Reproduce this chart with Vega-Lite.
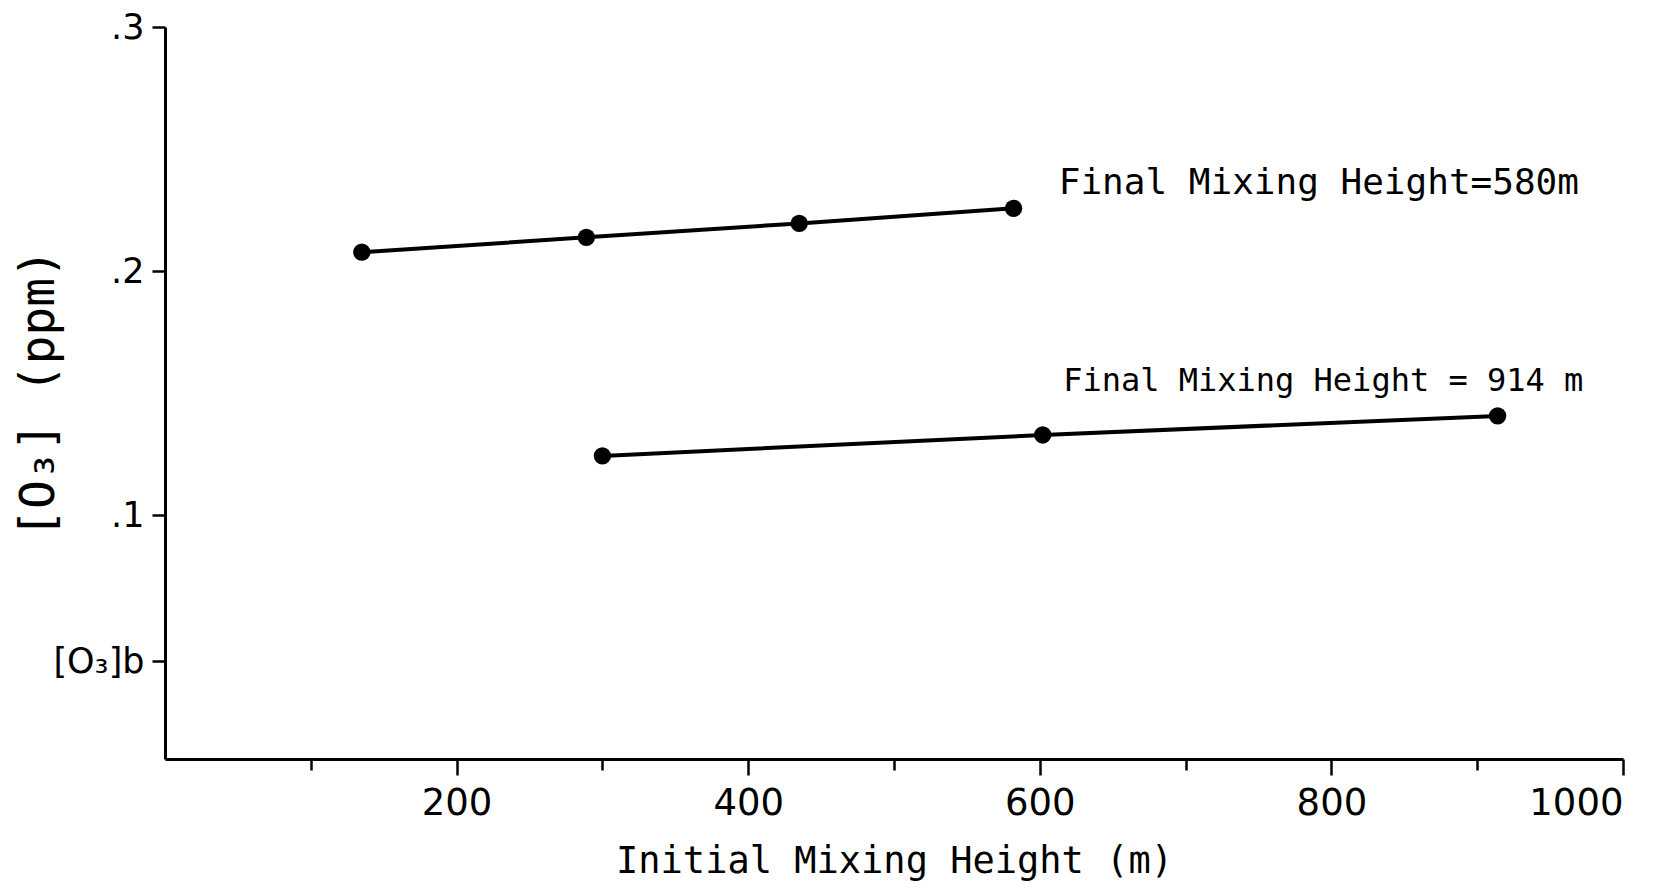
{
  "$schema": "https://vega.github.io/schema/vega-lite/v6.json",
  "width": 1458,
  "height": 732,
  "autosize": "none",
  "padding": {"left": 165, "top": 27, "right": 49, "bottom": 135},
  "background": "white",
  "config": {
    "view": {"stroke": null},
    "font": "DejaVu Sans"
  },
  "datasets": {
    "pts": [
      {"series": "580", "initial": 135, "o3": 0.2077},
      {"series": "580", "initial": 289, "o3": 0.2138},
      {"series": "580", "initial": 435, "o3": 0.2195},
      {"series": "580", "initial": 582, "o3": 0.2257},
      {"series": "914", "initial": 300, "o3": 0.1242},
      {"series": "914", "initial": 602, "o3": 0.1328},
      {"series": "914", "initial": 914, "o3": 0.1406}
    ],
    "labels": [
      {"series": "580", "text": "Final Mixing Height=580m", "initial": 613, "o3": 0.236},
      {"series": "914", "text": "Final Mixing Height = 914 m", "initial": 616, "o3": 0.155}
    ]
  },
  "layer": [
    {
      "data": {"name": "pts"},
      "mark": {"type": "line", "color": "black", "strokeWidth": 4},
      "encoding": {
        "x": {
          "field": "initial", "type": "quantitative",
          "scale": {"domain": [0, 1000], "nice": false, "zero": false},
          "axis": {
            "values": [100, 200, 300, 400, 500, 600, 700, 800, 900, 1000],
            "labelExpr": "datum.value % 200 === 0 ? datum.label : ''",
            "grid": false,
            "domainColor": "black", "domainWidth": 3,
            "tickColor": "black", "tickWidth": 2.5,
            "tickSize": {"condition": {"test": "datum.value % 200 === 0", "value": 16}, "value": 11},
            "labelFont": "DejaVu Sans", "labelFontSize": 37, "labelColor": "black",
            "labelPadding": 10,
            "format": "d",
            "title": "Initial Mixing Height (m)",
            "titleFont": "DejaVu Sans Mono", "titleFontSize": 37, "titleFontWeight": "normal",
            "titleColor": "black", "titlePadding": 22
          }
        },
        "y": {
          "field": "o3", "type": "quantitative",
          "scale": {"domain": [0, 0.3], "nice": false, "zero": false},
          "axis": {
            "values": [0.04, 0.1, 0.2, 0.3],
            "labelExpr": "datum.value === 0.04 ? '[O₃]b' : replace(format(datum.value, '.1f'), '0.', '.')",
            "grid": false,
            "domainColor": "black", "domainWidth": 3,
            "tickColor": "black", "tickWidth": 2.5, "tickSize": 13,
            "labelFont": "DejaVu Sans", "labelFontSize": 35, "labelColor": "black",
            "labelPadding": 8,
            "title": "[O₃] (ppm)",
            "titleFont": "DejaVu Sans Mono", "titleFontSize": 48, "titleFontWeight": "normal",
            "titleColor": "black",
            "titleX": -126, "titleY": 366, "titleAngle": -90,
            "titleAlign": "center", "titleBaseline": "middle"
          }
        },
        "detail": {"field": "series", "type": "nominal"}
      }
    },
    {
      "data": {"name": "pts"},
      "mark": {"type": "point", "filled": true, "color": "black", "opacity": 1, "size": 300},
      "encoding": {
        "x": {"field": "initial", "type": "quantitative"},
        "y": {"field": "o3", "type": "quantitative"}
      }
    },
    {
      "data": {"name": "labels"},
      "transform": [{"filter": "datum.series === '580'"}],
      "mark": {"type": "text", "align": "left", "baseline": "middle", "font": "DejaVu Sans Mono", "fontSize": 36, "color": "black"},
      "encoding": {
        "x": {"field": "initial", "type": "quantitative"},
        "y": {"field": "o3", "type": "quantitative"},
        "text": {"field": "text"}
      }
    },
    {
      "data": {"name": "labels"},
      "transform": [{"filter": "datum.series === '914'"}],
      "mark": {"type": "text", "align": "left", "baseline": "middle", "font": "DejaVu Sans Mono", "fontSize": 32, "color": "black"},
      "encoding": {
        "x": {"field": "initial", "type": "quantitative"},
        "y": {"field": "o3", "type": "quantitative"},
        "text": {"field": "text"}
      }
    }
  ]
}
